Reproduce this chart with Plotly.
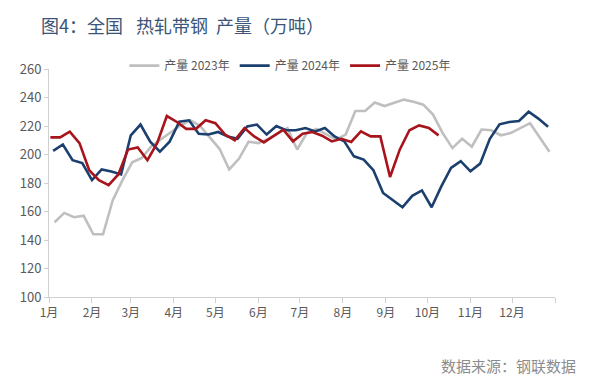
import pandas as pd
import plotly.graph_objects as go

# ---- data (weekly, Thursdays) ----
months = ["1月", "2月", "3月", "4月", "5月", "6月", "7月", "8月", "9月", "10月", "11月", "12月"]

prod_2023 = [152.5, 159, 156, 157, 144, 144, 168, 182, 194.5, 197.5, 206, 211, 216, 220.5,
             224, 220, 212, 204, 189.5, 197, 209, 208, 211, 215, 218.5, 203.5, 215, 218,
             214, 210.5, 214, 230.5, 230.5, 236.5, 234, 236, 238.5, 237, 235, 228, 215,
             204.5, 211, 205.5, 217.5, 217, 213.5, 215, 218.5, 222, 212, 202]
prod_2024 = [202.5, 207, 196, 194, 182, 189.5, 188, 186, 213.5, 221, 209, 202, 209, 223,
             224, 214.5, 214, 215.8, 212.7, 211, 219.7, 221, 214, 220, 217, 217, 218.6,
             216.2, 218.6, 212.7, 209.2, 198.7, 196.4, 189, 173, 168, 163, 171, 174.8, 163,
             177.6, 190.6, 195.3, 188.2, 193.6, 211, 221.2, 222.8, 223.5, 230, 225.2, 219.5]
prod_2025 = [212, 212, 216, 208, 189, 182, 178.5, 186, 203.5, 205, 196, 208, 227, 223, 218,
             218, 224, 222, 214, 210, 218.6, 212.7, 208.5, 212.7, 217.4, 209.2, 214.6, 215.8,
             213.2, 209.2, 211, 208.8, 216.2, 212.7, 212.7, 184.2, 203.4, 217, 220.4, 218.6,
             213.4]

first_thursday = {2023: "2023-01-05", 2024: "2024-01-04", 2025: "2025-01-02"}
base = pd.Timestamp("2025-01-01")


def to_common_year(year, n):
    d = pd.date_range(first_thursday[year], periods=n, freq="7D")
    return [base + (x - pd.Timestamp(f"{year}-01-01")) for x in d]


series = [
    ("产量 2023年", 2023, prod_2023, "#BFBFBF"),
    ("产量 2024年", 2024, prod_2024, "#1B3F6E"),
    ("产量 2025年", 2025, prod_2025, "#A8141C"),
]

FONT = "Noto Sans CJK SC"
fig = go.Figure()
for name, yr, vals, col in series:
    fig.add_trace(go.Scatter(
        x=to_common_year(yr, len(vals)), y=vals, name=name, mode="lines",
        line=dict(color=col, width=2.6),
    ))

month_starts = [pd.Timestamp(f"2025-{m:02d}-01") for m in range(1, 13)]

fig.update_layout(
    width=595, height=389,
    margin=dict(l=35, r=48, t=61, b=100),
    paper_bgcolor="white", plot_bgcolor="white",
    font=dict(family=FONT, size=12, color="#595959"),
    showlegend=True,
    legend=dict(orientation="h", x=0.477, xanchor="center", y=1.015, yanchor="middle",
                font=dict(size=12, color="#595959"), itemwidth=30,
                bgcolor="rgba(0,0,0,0)", tracegroupgap=0),
    xaxis=dict(
        type="date", range=[pd.Timestamp("2025-01-01"), pd.Timestamp("2026-01-01")],
        tickvals=month_starts + [pd.Timestamp("2026-01-01")],
        ticktext=months + [""],
        showgrid=False, showline=True, linecolor="#D0D0D0", linewidth=1,
        ticks="outside", ticklen=5, tickcolor="#D0D0D0",
        tickfont=dict(size=12, color="#595959"), zeroline=False,
    ),
    yaxis=dict(
        range=[100, 260], tickvals=list(range(100, 261, 20)),
        showgrid=False, showline=True, linecolor="#D0D0D0", linewidth=1,
        ticks="outside", ticklen=4, tickcolor="#D0D0D0",
        tickfont=dict(size=13, color="#595959"), zeroline=False,
    ),
    annotations=[
        dict(text="图4：全国\u2002\u00a0热轧带钢\u00a0\u00a0产量（万吨）", xref="paper", yref="paper",
             x=-0.0195, y=1.0, yshift=44, xanchor="left", yanchor="middle", showarrow=False,
             font=dict(family=FONT, size=18, color="#3A5577")),
        dict(text="数据来源：钢联数据", xref="paper", yref="paper",
             x=1.045, y=0, yshift=-68, xanchor="right", yanchor="middle", showarrow=False,
             font=dict(family=FONT, size=15, color="#8C8C8C")),
    ],
)

fig.write_html("out.html")
